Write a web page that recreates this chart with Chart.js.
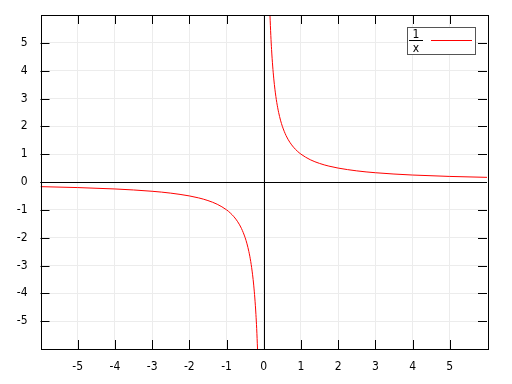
<!DOCTYPE html>
<html><head><meta charset="utf-8">
<script src="https://cdn.jsdelivr.net/npm/chart.js@4"></script>
<style>html,body{margin:0;padding:0;background:#fff}#c{display:block}</style>
</head><body>
<canvas id="c" width="512" height="384"></canvas>
<script>
const xTicks = [-5,-4,-3,-2,-1,0,1,2,3,4,5];
const yTicks = [-5,-4,-3,-2,-1,0,1,2,3,4,5];
const negX = [-6,-5,-4,-3.5,-3,-2.5,-2,-1.75,-1.5,-1.25,-1,-0.9,-0.8,-0.7,-0.6,-0.5,-0.45,-0.4,-0.35,-0.3,-0.27,-0.24,-0.21,-0.19,-0.167];
const negY = [-0.167,-0.2,-0.25,-0.286,-0.333,-0.4,-0.5,-0.571,-0.667,-0.8,-1,-1.111,-1.25,-1.429,-1.667,-2,-2.222,-2.5,-2.857,-3.333,-3.704,-4.167,-4.762,-5.263,-6];
const posX = [0.167,0.19,0.21,0.24,0.27,0.3,0.35,0.4,0.45,0.5,0.6,0.7,0.8,0.9,1,1.25,1.5,1.75,2,2.5,3,3.5,4,5,6];
const posY = [6,5.263,4.762,4.167,3.704,3.333,2.857,2.5,2.222,2,1.667,1.429,1.25,1.111,1,0.8,0.667,0.571,0.5,0.4,0.333,0.286,0.25,0.2,0.167];
const FONT = "12px 'DejaVu Sans Condensed', 'DejaVu Sans', sans-serif";

const pts = (xs, ys) => xs.map((x,i)=>({x, y: ys[i]}));

const framePlugin = {
  id: 'frame',
  beforeDatasetsDraw(chart) {
    const {ctx, chartArea: a, scales: {x, y}} = chart;
    ctx.save();
    ctx.strokeStyle = '#000';
    ctx.lineWidth = 1;
    const x0 = Math.round(x.getPixelForValue(0)) + 0.5;
    const y0 = Math.round(y.getPixelForValue(0)) + 0.5;
    ctx.beginPath();
    ctx.moveTo(x0, a.top); ctx.lineTo(x0, a.bottom);
    ctx.moveTo(a.left, y0); ctx.lineTo(a.right, y0);
    ctx.stroke();
    ctx.restore();
  },
  afterDatasetsDraw(chart) {
    const {ctx, chartArea: a, scales: {x, y}} = chart;
    ctx.save();
    ctx.strokeStyle = '#000';
    ctx.lineWidth = 1;
    const L = 9;
    ctx.beginPath();
    xTicks.forEach(v => {
      const px = Math.round(x.getPixelForValue(v)) + 0.5;
      ctx.moveTo(px, a.bottom); ctx.lineTo(px, a.bottom - L);
      ctx.moveTo(px, a.top); ctx.lineTo(px, a.top + L);
    });
    yTicks.forEach(v => {
      const py = Math.round(y.getPixelForValue(v)) + 0.5;
      ctx.moveTo(a.left, py); ctx.lineTo(a.left + L, py);
      ctx.moveTo(a.right, py); ctx.lineTo(a.right - L, py);
    });
    ctx.stroke();
    ctx.strokeRect(Math.round(a.left)+0.5, Math.round(a.top)+0.5, Math.round(a.right-a.left), Math.round(a.bottom-a.top));
    // legend
    const bx = 407.5, by = 27.5, bw = 68, bh = 27;
    ctx.fillStyle = '#fff';
    ctx.fillRect(bx, by, bw, bh);
    ctx.strokeStyle = '#555';
    ctx.strokeRect(bx, by, bw, bh);
    ctx.fillStyle = '#000';
    ctx.font = FONT;
    ctx.textAlign = 'center';
    ctx.textBaseline = 'alphabetic';
    ctx.fillText('1', 416, 38);
    ctx.fillText('x', 416, 52);
    ctx.strokeStyle = '#000';
    ctx.beginPath(); ctx.moveTo(409, 40.5); ctx.lineTo(423, 40.5); ctx.stroke();
    ctx.strokeStyle = '#ff0000';
    ctx.beginPath(); ctx.moveTo(431, 40.5); ctx.lineTo(472, 40.5); ctx.stroke();
    ctx.restore();
  }
};

new Chart(document.getElementById('c'), {
  type: 'scatter',
  data: {
    datasets: [
      {data: pts(negX, negY), showLine: true, borderColor: '#ff0000', borderWidth: 1, pointRadius: 0, cubicInterpolationMode: 'monotone'},
      {data: pts(posX, posY), showLine: true, borderColor: '#ff0000', borderWidth: 1, pointRadius: 0, cubicInterpolationMode: 'monotone'}
    ]
  },
  options: {
    responsive: false, animation: false,
    layout: {padding: {top: 15, right: 25, left: 0, bottom: 0}},
    plugins: {legend: {display: false}, tooltip: {enabled: false}},
    scales: {
      x: {
        type: 'linear', min: -6, max: 6,
        afterFit(s) { s.height = 35; s.paddingLeft = 0; s.paddingRight = 0; },
        afterBuildTicks(s) { s.ticks = xTicks.map(v => ({value: v})); },
        grid: {color: '#ececec', drawTicks: false},
        border: {display: false},
        ticks: {color: '#000', font: {family: "'DejaVu Sans Condensed', 'DejaVu Sans', sans-serif", size: 12}, padding: 11, maxRotation: 0}
      },
      y: {
        type: 'linear', min: -6, max: 6,
        afterFit(s) { s.width = 40.5; s.paddingTop = 0; s.paddingBottom = 0; },
        afterBuildTicks(s) { s.ticks = yTicks.map(v => ({value: v})); },
        grid: {color: '#ececec', drawTicks: false},
        border: {display: false},
        ticks: {color: '#000', font: {family: "'DejaVu Sans Condensed', 'DejaVu Sans', sans-serif", size: 12}, padding: 13}
      }
    }
  },
  plugins: [framePlugin]
});
</script>
</body></html>
